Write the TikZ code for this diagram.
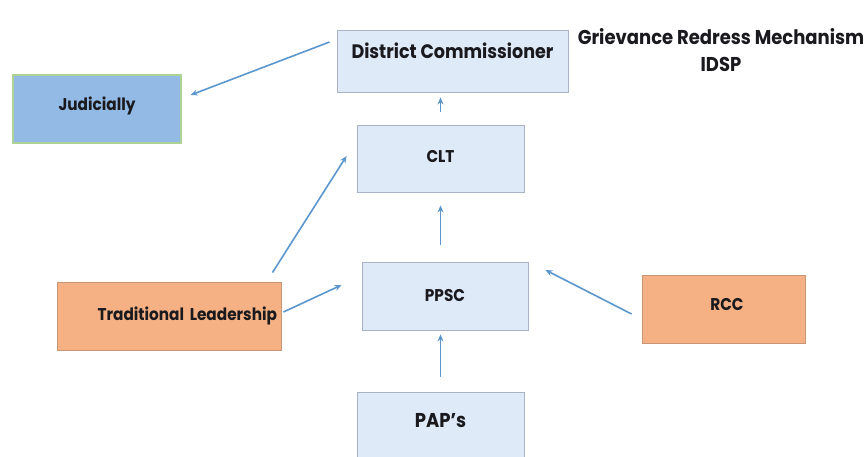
\documentclass[tikz,border=0pt]{standalone}
\usepackage{fontspec}
\setmainfont{Poppins}[FakeStretch=0.9]
\usepackage{tikz}
\usetikzlibrary{arrows.meta, positioning, calc}
\definecolor{grmblue}{RGB}{222,234,247}
\definecolor{grmblueline}{RGB}{168,180,198}
\definecolor{grmorange}{RGB}{245,177,131}
\definecolor{grmorangeline}{RGB}{200,150,118}
\definecolor{grmjud}{RGB}{146,186,228}
\definecolor{grmjudline}{RGB}{172,210,150}
\definecolor{grmarrow}{RGB}{91,150,205}
\definecolor{grmtext}{RGB}{25,25,30}
\newcommand{\liftby}[2]{\raisebox{#1}[0pt][0pt]{#2}}

\begin{document}
\begin{tikzpicture}[
  x=1pt, y=-1pt,
  box/.style={rectangle, draw=grmblueline, fill=grmblue, line width=0.9pt, minimum width=167pt, minimum height=67pt, align=center, text=grmtext, font=\bfseries\fontsize{17}{20}\selectfont, inner sep=4pt},
  orangebox/.style={box, draw=grmorangeline, fill=grmorange},
  judbox/.style={box, draw=grmjudline, fill=grmjud, line width=1.4pt},
  arr/.style={-{Stealth[length=7pt, width=6pt]}, line width=1.6pt, draw=grmarrow}
]
  \useasboundingbox (0,0) rectangle (867,457);

  \node[box, minimum width=231pt, minimum height=62pt, font=\bfseries\fontsize{19.5}{22}\selectfont] (dc) at (452.5,61) {\liftby{2pt}{District Commissioner}};
  \node[judbox, minimum width=168pt, minimum height=68pt] (jud) at (97,109) {\liftby{-2pt}{Judicially}};
  \node[box] (clt) at (440.5,158.5) {\liftby{-4pt}{CLT}};
  \node[box, minimum width=166pt, minimum height=68pt] (ppsc) at (445,296) {PPSC};
  \node[box, minimum height=80pt, font=\bfseries\fontsize{20}{22}\selectfont] (paps) at (440.5,432) {\liftby{5pt}{PAP's}};
  \node[orangebox, minimum width=224pt, minimum height=68pt, text width=216pt, align=right] (trad) at (169,316) {Traditional Leadership};
  \node[orangebox, minimum width=163pt, minimum height=68pt] (rcc) at (723.5,309) {\liftby{-1pt}{\hspace*{7pt}RCC}};

  \node[align=center, text=grmtext, font=\bfseries\fontsize{20}{27}\selectfont] (title) at (721,50) {Grievance Redress Mechanism\\IDSP};

  \draw[arr] ([xshift=-7pt, yshift=19pt]dc.west) -- ([xshift=9pt, yshift=14pt]jud.east);
  \draw[arr, shorten <=13pt, shorten >=5pt] (clt.north) -- (clt.north |- dc.south);
  \draw[arr, shorten <=17pt, shorten >=13pt] (ppsc.north -| clt.north) -- (clt.south);
  \draw[arr, shorten <=15pt, shorten >=4pt] (paps.north) -- (paps.north |- ppsc.south);
  \draw[arr] ([xshift=-9pt, yshift=9pt]trad.north east) -- ([xshift=-10pt, yshift=2.5pt]clt.west);
  \draw[arr] ([xshift=2pt, yshift=4pt]trad.east) -- ([xshift=-20pt, yshift=11pt]ppsc.west);
  \draw[arr] ([xshift=-10pt, yshift=-5pt]rcc.west) -- ([xshift=17pt, yshift=26pt]ppsc.east);
\end{tikzpicture}
\end{document}
